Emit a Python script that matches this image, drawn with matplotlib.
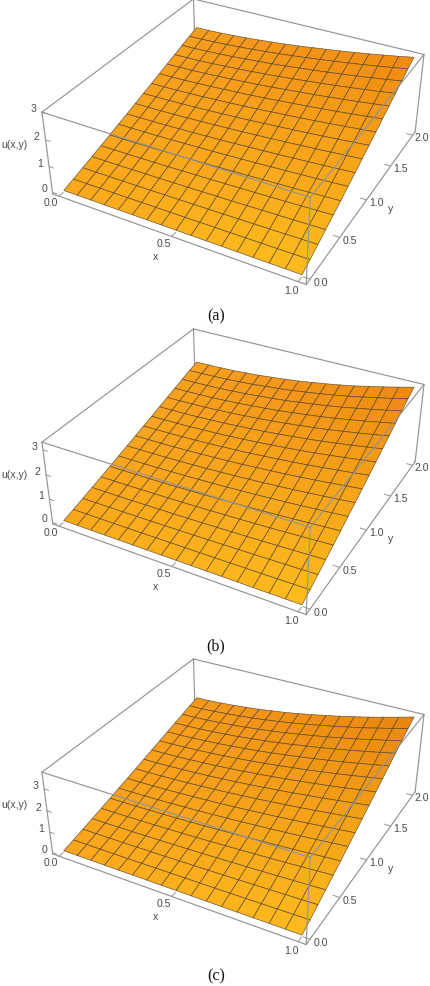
import numpy as np
import matplotlib
matplotlib.use("Agg")
import matplotlib.pyplot as plt

# mesh nodes of the plotted surface
x_nodes = np.linspace(0, 1, 17)
y_nodes = np.linspace(0, 2, 17)

# u(x, 2) read along the far edge of each panel
far_edge_a = [2.00, 2.01, 2.03, 2.06, 2.095, 2.14, 2.19, 2.24, 2.30, 2.37, 2.44, 2.51, 2.59, 2.67, 2.76, 2.85, 2.95]
far_edge_b = [2.00, 2.005, 2.02, 2.04, 2.08, 2.12, 2.18, 2.24, 2.31, 2.40, 2.49, 2.59, 2.70, 2.83, 2.96, 3.10, 3.25]
far_edge_c = [1.98, 1.99, 2.03, 2.08, 2.14, 2.21, 2.30, 2.39, 2.50, 2.62, 2.75, 2.88, 3.03, 3.18, 3.35, 3.52, 3.70]

# share of the far edge height reached at each y node
rise = [0.0, 0.055, 0.115, 0.175, 0.235, 0.295, 0.36, 0.42, 0.485, 0.55, 0.615, 0.68, 0.745, 0.81, 0.875, 0.94, 1.0]

z_top = {"a": 3.0, "b": 3.3, "c": 3.75}
z_ticks = {"a": [0, 1, 2, 3], "b": [0, 1, 2, 3], "c": [0, 1, 2, 3]}
x_ticks = [0.0, 0.5, 1.0]
y_ticks = [0.0, 0.5, 1.0, 1.5, 2.0]
captions = ["(a)", "(b)", "(c)"]

EDGE = "#949494"
TEXT = "#4a4a4a"
MESH = (0.30, 0.24, 0.14, 0.8)
# colours at (x=0,y=0), (1,0), (0,2), (1,2)
CORNERS = {
    "a": ["#fba81c", "#fdbc1e", "#f79d1e", "#f08a12"],
    "b": ["#fba81c", "#fdbc1e", "#f8a020", "#ee8812"],
    "c": ["#fba61c", "#fdbc1e", "#f79a1c", "#e9850f"],
}


def hex_rgb(c):
    return np.array(matplotlib.colors.to_rgb(c))


def face_colors(key):
    c00, c10, c02, c12 = [hex_rgb(c) for c in CORNERS[key]]
    xm = (x_nodes[:-1] + x_nodes[1:]) / 2
    ym = (y_nodes[:-1] + y_nodes[1:]) / 2 / 2
    X, Y = np.meshgrid(xm, ym)
    X, Y = X[..., None], Y[..., None]
    return (1-X)*(1-Y)*c00 + X*(1-Y)*c10 + (1-X)*Y*c02 + X*Y*c12


def draw_panel(key, far_edge, slot):
    top_px = 330 * slot + AX_T
    ax = fig.add_axes([AX_L/W, 1 - (top_px + AX_S)/H, AX_S/W, AX_S/H], projection="3d", computed_zorder=False)
    ax.patch.set_alpha(0)
    ax.set_axis_off()
    ax.set_proj_type("persp", focal_length=FOCAL)
    ax.view_init(elev=ELEV, azim=AZIM)
    ax.set_box_aspect((1, 1, 0.345), zoom=ZOOM)

    x0, x1 = -0.03, 1.03
    y0, y1 = -0.06, 2.06
    zb, zt = -0.06, z_top[key]
    ax.set_xlim(x0, x1)
    ax.set_ylim(y0, y1)
    ax.set_zlim(zb, zt)

    def edge(p, q, z):
        ax.plot([p[0], q[0]], [p[1], q[1]], [p[2], q[2]], color=EDGE, lw=0.85, zorder=z)

    # back of the box first, then the surface, then the front of the box
    edge((x0, y1, zb), (x0, y1, zt), 1)
    edge((x1, y1, zb), (x1, y1, zt), 1)
    edge((x0, y1, zt), (x1, y1, zt), 1)
    edge((x0, y0, zt), (x0, y1, zt), 1)
    edge((x0, y0, zb), (x1, y0, zb), 1)
    edge((x1, y0, zb), (x1, y1, zb), 1)
    edge((x0, y0, zb), (x0, y0, zt), 1)

    X, Y = np.meshgrid(x_nodes, y_nodes)
    Z = np.outer(rise, far_edge)
    ax.plot_surface(X, Y, Z, rstride=1, cstride=1, facecolors=face_colors(key), shade=False,
                    edgecolor=MESH, linewidth=0.5, antialiased=True, zorder=2)

    edge((x0, y0, zt), (x1, y0, zt), 3)
    edge((x1, y0, zt), (x1, y1, zt), 3)
    edge((x1, y0, zb), (x1, y0, zt), 3)

    # ticks and labels
    for t in x_ticks:
        ax.plot([t, t], [y0, y0+0.05], [zb, zb], color=EDGE, lw=0.7, zorder=1)
        ax.text(t, y0-0.10, zb, "%.1f" % t, color=TEXT, fontsize=7.6, ha="center", va="center", zorder=4)
    for t in y_ticks:
        ax.plot([x1, x1-0.025], [t, t], [zb, zb], color=EDGE, lw=0.7, zorder=1)
        ax.text(x1+0.04, t, zb, "%.1f" % t, color=TEXT, fontsize=7.6, ha="center", va="center", zorder=4)
    for t in z_ticks[key]:
        ax.plot([x0, x0+0.02], [y0, y0], [t, t], color=EDGE, lw=0.7, zorder=1)
        ax.text(x0-0.04, y0, t, str(t), color=TEXT, fontsize=7.6, ha="center", va="center", zorder=4)

    ax.text(0.51, y0-0.24, zb, "x", color=TEXT, fontsize=7.6, ha="center", va="center", zorder=4)
    ax.text(x1+0.10, 0.98, zb, "y", color=TEXT, fontsize=7.6, ha="center", va="center", zorder=4)
    ax.text(x0-0.155, y0, zb + 0.47*(zt-zb), "u(x,y)", color=TEXT, fontsize=7.6, ha="center", va="center", zorder=4)


W, H = 430, 986
AX_S = 430
AX_L = 21.5
AX_T = -86.5
ELEV, AZIM = 32.8, -61.6
FOCAL = 0.42
ZOOM = 0.90

plt.rcParams["font.family"] = ["Liberation Sans", "DejaVu Sans"]
fig = plt.figure(figsize=(W/100, H/100), dpi=100)

for i, (key, far) in enumerate(zip("abc", [far_edge_a, far_edge_b, far_edge_c])):
    draw_panel(key, far, i)

for cap, y_px in zip(captions, [316, 646, 976]):
    fig.text(216/W, 1 - y_px/H, cap, family="Liberation Serif", fontsize=11.5, color="#111111", ha="center", va="center")

fig.savefig("out.png", dpi=100)
